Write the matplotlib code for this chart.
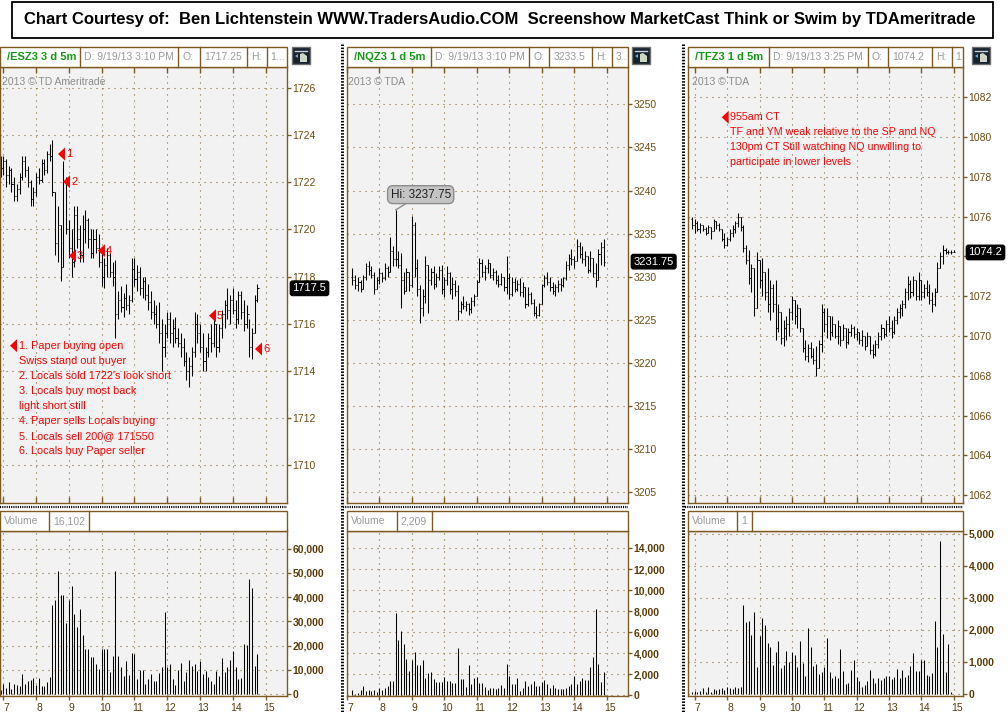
import matplotlib
matplotlib.use('Agg')
import matplotlib.pyplot as plt
import matplotlib.transforms as mtransforms
from matplotlib.patches import Rectangle, Polygon
import numpy as np

# ---- values, 5 minute bars ----
# /ESZ3, first bar 6:55
es_high = [1723.1, 1723.1, 1723.0, 1722.7, 1722.6, 1722.2, 1721.9, 1722.4, 1723.1, 1723.1,
           1722.7, 1722.1, 1721.8, 1722.4, 1722.6, 1723.0, 1723.0, 1723.3, 1723.6, 1723.8,
           1721.6, 1721.0, 1720.2, 1722.9, 1722.2, 1720.4, 1720.0, 1721.0, 1721.0, 1720.2,
           1720.6, 1720.8, 1720.5, 1720.0, 1720.0, 1720.0, 1719.8, 1719.0, 1718.8, 1719.2,
           1719.0, 1718.6, 1718.7, 1717.4, 1717.6, 1717.3, 1717.7, 1717.2, 1718.8, 1718.8,
           1718.5, 1718.4, 1718.0, 1718.0, 1717.7, 1717.4, 1717.0, 1716.8, 1716.9, 1716.2,
           1716.0, 1716.5, 1716.5, 1716.2, 1716.3, 1715.8, 1715.6, 1715.4, 1714.8, 1714.6,
           1715.0, 1716.5, 1716.4, 1716.0, 1715.6, 1715.0, 1715.6, 1716.0, 1716.2, 1716.0,
           1716.0, 1716.6, 1717.0, 1717.5, 1717.2, 1717.5, 1717.0, 1717.4, 1717.4, 1717.0,
           1716.8, 1716.2, 1715.8, 1717.2, 1717.7]
es_low = [1722.2, 1722.3, 1721.8, 1721.9, 1721.6, 1721.2, 1721.2, 1721.5, 1722.1, 1722.2,
          1721.8, 1721.0, 1721.0, 1721.4, 1721.9, 1722.0, 1722.3, 1722.4, 1722.9, 1721.4,
          1718.9, 1718.6, 1717.8, 1718.4, 1719.8, 1718.8, 1718.0, 1718.4, 1719.2, 1718.6,
          1718.6, 1719.4, 1719.2, 1718.8, 1718.8, 1719.0, 1718.4, 1717.6, 1717.5, 1718.0,
          1718.0, 1717.6, 1715.4, 1716.2, 1716.5, 1716.3, 1716.6, 1716.4, 1716.9, 1717.6,
          1717.4, 1717.2, 1717.1, 1717.0, 1716.6, 1716.2, 1716.0, 1715.8, 1715.2, 1714.0,
          1714.6, 1715.4, 1715.2, 1715.0, 1715.2, 1715.0, 1714.6, 1714.2, 1713.6, 1713.3,
          1713.8, 1714.6, 1715.2, 1714.8, 1714.0, 1714.0, 1714.6, 1714.8, 1715.0, 1714.6,
          1714.8, 1715.4, 1715.8, 1716.2, 1716.0, 1716.4, 1715.8, 1716.0, 1716.2, 1715.7,
          1715.8, 1714.6, 1714.5, 1715.6, 1716.9]
es_open = [1722.9, 1722.6, 1722.9, 1722.3, 1722.5, 1721.9, 1721.4, 1721.7, 1722.2, 1722.9,
           1722.5, 1722.0, 1721.3, 1721.6, 1722.2, 1722.1, 1722.8, 1722.5, 1723.2, 1723.1,
           1721.6, 1719.4, 1720.2, 1718.4, 1722.0, 1720.0, 1719.2, 1718.6, 1720.6, 1719.6,
           1718.9, 1720.0, 1720.4, 1719.6, 1719.0, 1719.6, 1719.2, 1718.6, 1718.0, 1718.5,
           1718.9, 1718.2, 1718.0, 1716.4, 1717.0, 1716.7, 1717.1, 1716.8, 1717.0, 1718.3,
           1717.9, 1718.2, 1717.5, 1717.8, 1717.2, 1716.9, 1716.5, 1716.4, 1716.0, 1715.6,
           1715.0, 1715.6, 1716.2, 1715.6, 1715.8, 1715.4, 1715.2, 1715.0, 1714.4, 1714.0,
           1714.2, 1714.8, 1716.0, 1715.6, 1715.0, 1714.4, 1714.8, 1715.4, 1715.2, 1716.0,
           1715.0, 1715.8, 1716.4, 1716.8, 1716.6, 1717.0, 1716.6, 1716.2, 1717.2, 1716.5,
           1716.0, 1716.4, 1715.0, 1715.6, 1717.0]
es_close = [1722.6, 1722.9, 1722.3, 1722.5, 1721.9, 1721.4, 1721.7, 1722.2, 1722.9, 1722.5,
            1722.0, 1721.3, 1721.6, 1722.2, 1722.1, 1722.8, 1722.5, 1723.2, 1723.1, 1721.6,
            1719.4, 1720.2, 1718.4, 1722.0, 1720.0, 1719.2, 1718.6, 1720.6, 1719.6, 1718.9,
            1720.0, 1720.4, 1719.6, 1719.0, 1719.6, 1719.2, 1718.6, 1718.0, 1718.5, 1718.9,
            1718.2, 1718.0, 1716.4, 1717.0, 1716.7, 1717.1, 1716.8, 1717.0, 1718.3, 1717.9,
            1718.2, 1717.5, 1717.8, 1717.2, 1716.9, 1716.5, 1716.4, 1716.0, 1715.6, 1715.0,
            1715.6, 1716.2, 1715.6, 1715.8, 1715.4, 1715.2, 1715.0, 1714.4, 1714.0, 1714.2,
            1714.8, 1716.0, 1715.6, 1715.0, 1714.4, 1714.8, 1715.4, 1715.2, 1716.0, 1715.0,
            1715.8, 1716.4, 1716.8, 1716.6, 1717.0, 1716.6, 1716.2, 1717.2, 1716.5, 1716.0,
            1716.4, 1715.0, 1715.6, 1717.0, 1717.5]
es_vol = [1600, 4100, 2300, 5100, 2000, 4100, 3700, 3400, 8200, 4100, 5500, 5800, 6700, 3700,
          6500, 3300, 3400, 5100, 7100,
          36700, 38800, 50800, 40900, 40900, 29400, 38800, 44700, 33000, 27800, 35100, 24300,
          18600, 18600, 15100, 15100, 12200, 10300, 18800, 18600, 18600, 9200, 15700, 50800,
          15800, 11000, 7600, 13600, 7800, 16800, 16500, 6200, 9900, 9900, 4100, 6200, 8300,
          5400, 5400, 8500, 11000, 33700,
          11300, 12400, 6200, 3700, 9900, 12700, 5400, 9200, 14000, 11700, 12200, 9500, 13600,
          8300, 9600, 7200, 5500, 4100, 9600, 7400, 15000, 9200, 11000, 14000, 17700, 11000,
          6200, 6700,
          20600, 20200, 47700, 43600, 11700, 16400]

# /NQZ3, first bar 7:10
nq_high = [3231.0, 3230.2, 3230.0, 3229.6, 3230.2, 3231.6, 3231.8, 3231.2, 3230.6, 3230.0,
           3231.0, 3230.6, 3231.6, 3231.2, 3234.6, 3233.6, 3237.75, 3233.0, 3232.7, 3230.6,
           3231.0, 3230.6, 3237.0, 3236.4, 3232.0, 3229.0, 3228.6, 3232.4, 3231.4, 3231.0,
           3231.2, 3230.4, 3231.2, 3231.4, 3230.0, 3231.2, 3230.6, 3230.0, 3229.6, 3229.0,
           3227.2, 3227.8, 3227.2, 3227.0, 3227.6, 3228.0, 3229.6, 3232.2, 3232.0, 3231.4,
           3232.0, 3231.6, 3231.0, 3230.8, 3230.2, 3230.4, 3230.0, 3232.4, 3230.4, 3230.0,
           3229.8, 3229.6, 3229.8, 3229.4, 3228.8, 3228.8, 3228.2, 3227.4, 3226.6, 3227.0,
           3229.2, 3230.2, 3230.6, 3230.0, 3229.4, 3229.2, 3229.6, 3229.8, 3230.0, 3231.8,
           3232.6, 3233.2, 3232.4, 3234.4, 3234.0, 3233.6, 3233.0, 3232.4, 3233.0, 3232.2,
           3231.6, 3233.2, 3234.0, 3234.4]
nq_low = [3229.0, 3228.6, 3228.4, 3228.2, 3228.6, 3229.6, 3230.2, 3229.8, 3228.0, 3228.6,
          3229.2, 3229.4, 3229.6, 3230.0, 3230.6, 3231.2, 3231.2, 3231.0, 3226.4, 3228.0,
          3228.4, 3228.4, 3228.8, 3230.0, 3227.8, 3224.6, 3225.4, 3227.0, 3225.8, 3229.0,
          3228.6, 3228.8, 3229.6, 3228.0, 3227.6, 3229.0, 3228.0, 3227.4, 3227.8, 3225.0,
          3225.8, 3226.2, 3226.0, 3225.6, 3225.8, 3226.6, 3227.8, 3229.4, 3230.0, 3229.6,
          3230.4, 3229.8, 3229.6, 3229.2, 3228.8, 3229.0, 3228.4, 3228.0, 3227.4, 3227.8,
          3228.2, 3228.4, 3227.8, 3227.6, 3226.4, 3226.6, 3226.8, 3225.4, 3225.2, 3225.4,
          3226.8, 3228.8, 3229.0, 3228.4, 3228.0, 3227.8, 3228.2, 3228.4, 3228.8, 3229.6,
          3230.8, 3231.4, 3231.0, 3231.8, 3232.2, 3231.6, 3231.2, 3230.4, 3230.6, 3230.0,
          3228.8, 3229.6, 3231.4, 3231.2]
nq_open = [3230.0, 3229.6, 3229.0, 3229.4, 3228.6, 3230.0, 3231.2, 3230.8, 3230.2, 3228.6,
           3229.6, 3230.4, 3229.8, 3231.0, 3230.6, 3233.0, 3232.0, 3232.0, 3231.4, 3229.6,
           3228.4, 3230.6, 3229.0, 3236.0, 3231.0, 3228.6, 3226.4, 3227.8, 3231.4, 3229.6,
           3230.6, 3229.2, 3230.0, 3230.8, 3228.6, 3229.6, 3230.4, 3228.6, 3229.2, 3228.4,
           3226.0, 3226.8, 3226.6, 3226.8, 3226.2, 3227.2, 3227.8, 3229.4, 3231.6, 3230.6,
           3231.0, 3231.6, 3230.2, 3230.6, 3229.6, 3229.2, 3230.0, 3228.8, 3229.8, 3228.0,
           3229.4, 3228.6, 3229.2, 3228.2, 3228.8, 3226.8, 3228.0, 3227.0, 3225.8, 3225.6,
           3226.8, 3229.0, 3229.8, 3229.4, 3228.8, 3228.4, 3228.8, 3229.2, 3229.0, 3229.8,
           3231.4, 3232.2, 3232.0, 3231.8, 3233.6, 3232.6, 3232.0, 3232.4, 3230.8, 3232.2,
           3230.4, 3229.6, 3232.6, 3233.4]
nq_close = [3229.6, 3229.0, 3229.4, 3228.6, 3230.0, 3231.2, 3230.8, 3230.2, 3228.6, 3229.6,
            3230.4, 3229.8, 3231.0, 3230.6, 3233.0, 3232.0, 3232.0, 3231.4, 3229.6, 3228.4,
            3230.6, 3229.0, 3236.0, 3231.0, 3228.6, 3226.4, 3227.8, 3231.4, 3229.6, 3230.6,
            3229.2, 3230.0, 3230.8, 3228.6, 3229.6, 3230.4, 3228.6, 3229.2, 3228.4, 3226.0,
            3226.8, 3226.6, 3226.8, 3226.2, 3227.2, 3227.8, 3229.4, 3231.6, 3230.6, 3231.0,
            3231.6, 3230.2, 3230.6, 3229.6, 3229.2, 3230.0, 3228.8, 3229.8, 3228.0, 3229.4,
            3228.6, 3229.2, 3228.2, 3228.8, 3226.8, 3228.0, 3227.0, 3225.8, 3225.6, 3226.8,
            3229.0, 3229.8, 3229.4, 3228.8, 3228.4, 3228.8, 3229.2, 3229.0, 3229.8, 3231.4,
            3232.2, 3232.0, 3231.8, 3233.6, 3232.6, 3232.0, 3232.4, 3230.8, 3232.2, 3230.4,
            3229.6, 3232.6, 3233.4, 3231.75]
nq_vol = [480, 100, 160, 480, 860, 410, 480, 410, 480, 320, 700, 480, 630, 860, 1330, 1330,
          7840,
          5240, 6100, 4860, 3430, 2290, 3330, 4060, 2860, 2860, 3330,
          1650, 2060, 2160, 1520, 1270, 1270, 1270, 1680, 1330, 1330,
          1140, 1140, 4510, 1520, 1520, 790, 2860, 1020, 1590, 1680,
          1170, 1170, 790, 480, 700, 700, 540, 630, 950, 700,
          2920, 1810, 1020, 1020, 1650, 410, 630, 1330, 860, 1020,
          1330, 860, 860, 1270, 1430, 1020, 700, 950, 630, 570,
          540, 540, 630, 860, 1020, 1810, 1020, 1330, 1590, 1430,
          1430, 2630, 3650, 8190, 2950, 1270, 2220]

# /TFZ3, first bar 6:55
tf_high = [1076.0, 1075.9, 1075.8, 1075.7, 1075.6, 1075.5, 1075.6, 1075.5, 1075.9, 1075.8,
           1075.7, 1075.4, 1075.2, 1075.0, 1075.4, 1075.6, 1075.8, 1076.2, 1076.0, 1075.6,
           1074.6, 1074.3, 1073.6, 1073.4, 1074.2, 1073.8, 1073.9, 1073.2, 1073.4, 1072.8,
           1072.6, 1072.8, 1071.6, 1071.2, 1070.8, 1071.0, 1071.4, 1072.0, 1071.8, 1071.6,
           1071.4, 1070.4, 1069.8, 1069.6, 1069.7, 1069.4, 1069.5, 1069.8, 1071.6, 1071.4,
           1071.4, 1071.0, 1071.0, 1070.6, 1070.8, 1070.5, 1070.6, 1070.4, 1070.4, 1070.6,
           1070.5, 1070.4, 1070.2, 1070.3, 1070.0, 1070.2, 1070.0, 1069.6, 1069.8, 1070.2,
           1070.6, 1070.4, 1070.8, 1071.0, 1070.8, 1071.0, 1071.4, 1071.6, 1071.8, 1072.4,
           1073.0, 1072.8, 1073.0, 1072.8, 1073.2, 1072.8, 1072.6, 1072.8, 1072.6, 1072.2,
           1072.4, 1073.7, 1074.2, 1074.6, 1074.4, 1074.3, 1074.3, 1074.3]
tf_low = [1075.4, 1075.2, 1075.3, 1075.2, 1075.3, 1075.1, 1075.2, 1074.9, 1075.3, 1075.4,
          1075.3, 1074.8, 1074.4, 1074.5, 1074.8, 1075.0, 1075.2, 1075.5, 1075.3, 1074.2,
          1073.6, 1072.6, 1072.2, 1071.0, 1071.4, 1072.4, 1072.0, 1071.8, 1071.2, 1070.8,
          1071.2, 1069.8, 1070.2, 1069.6, 1069.5, 1069.8, 1070.0, 1070.8, 1070.6, 1070.4,
          1070.2, 1069.2, 1068.8, 1068.7, 1068.9, 1068.6, 1068.0, 1068.4, 1069.2, 1070.2,
          1069.9, 1069.8, 1070.0, 1069.9, 1069.6, 1069.5, 1069.8, 1069.4, 1069.6, 1070.0,
          1069.9, 1069.8, 1069.6, 1069.5, 1069.3, 1069.5, 1069.1, 1068.9, 1069.0, 1069.4,
          1069.8, 1069.9, 1070.0, 1070.2, 1069.9, 1070.1, 1070.6, 1070.9, 1071.0, 1071.4,
          1071.8, 1071.9, 1072.0, 1071.8, 1071.8, 1071.8, 1071.9, 1072.0, 1071.6, 1071.2,
          1071.5, 1072.2, 1073.4, 1073.6, 1074.1, 1074.1, 1074.1, 1074.2]
tf_open = [1075.9, 1075.6, 1075.7, 1075.4, 1075.6, 1075.4, 1075.2, 1075.5, 1075.3, 1075.8,
           1075.6, 1075.4, 1074.9, 1074.6, 1074.9, 1075.2, 1075.4, 1075.7, 1076.0, 1075.5,
           1074.4, 1073.8, 1072.9, 1073.4, 1071.4, 1073.8, 1072.8, 1073.2, 1072.2, 1071.6,
           1072.4, 1071.6, 1070.4, 1071.2, 1069.9, 1070.4, 1070.6, 1071.2, 1071.8, 1071.0,
           1071.4, 1070.4, 1069.4, 1069.0, 1069.4, 1069.0, 1068.8, 1068.4, 1069.6, 1071.2,
           1070.6, 1071.0, 1070.2, 1070.6, 1070.0, 1070.5, 1069.8, 1070.4, 1069.7, 1070.2,
           1070.4, 1070.1, 1070.2, 1069.8, 1070.0, 1069.5, 1070.0, 1069.3, 1069.1, 1069.6,
           1070.0, 1070.4, 1070.1, 1070.6, 1070.4, 1070.2, 1070.8, 1071.2, 1071.4, 1071.6,
           1072.2, 1072.6, 1072.2, 1072.8, 1072.0, 1072.8, 1072.2, 1072.4, 1072.2, 1071.8,
           1071.6, 1072.2, 1073.4, 1074.0, 1074.3, 1074.2, 1074.2, 1074.2]
tf_close = [1075.6, 1075.7, 1075.4, 1075.6, 1075.4, 1075.2, 1075.5, 1075.3, 1075.8, 1075.6,
            1075.4, 1074.9, 1074.6, 1074.9, 1075.2, 1075.4, 1075.7, 1076.0, 1075.5, 1074.4,
            1073.8, 1072.9, 1073.4, 1071.4, 1073.8, 1072.8, 1073.2, 1072.2, 1071.6, 1072.4,
            1071.6, 1070.4, 1071.2, 1069.9, 1070.4, 1070.6, 1071.2, 1071.8, 1071.0, 1071.4,
            1070.4, 1069.4, 1069.0, 1069.4, 1069.0, 1068.8, 1068.4, 1069.6, 1071.2, 1070.6,
            1071.0, 1070.2, 1070.6, 1070.0, 1070.5, 1069.8, 1070.4, 1069.7, 1070.2, 1070.4,
            1070.1, 1070.2, 1069.8, 1070.0, 1069.5, 1070.0, 1069.3, 1069.1, 1069.6, 1070.0,
            1070.4, 1070.1, 1070.6, 1070.4, 1070.2, 1070.8, 1071.2, 1071.4, 1071.6, 1072.2,
            1072.6, 1072.2, 1072.8, 1072.0, 1072.8, 1072.2, 1072.4, 1072.2, 1071.8, 1071.6,
            1072.2, 1073.4, 1074.0, 1074.3, 1074.2, 1074.2, 1074.2, 1074.2]
tf_vol = [70, 90, 70, 90, 180, 70, 230, 70, 150, 130, 150, 180, 130, 230, 180, 150, 210, 200, 230,
          2780, 2240, 2260, 1840, 2570, 850, 1810, 2360, 2140, 1600,
          1450, 910, 1320, 1660, 800, 910, 1340, 1010, 1320, 1220,
          850, 1660, 960, 570, 2070, 1480, 880, 940, 610, 700,
          850, 1740, 700, 510, 560, 490, 1410, 730, 300,
          330, 750, 1060, 540, 390, 230, 280, 390, 750,
          510, 350, 510, 440, 490, 560, 570, 470,
          540, 770, 490, 750, 540, 590, 880, 1270, 730, 720,
          1060, 1060, 590, 570, 670, 2260, 1480, 4760, 1880, 700,
          1560, 70, 5]

es_t = 6 + 55 / 60 + np.arange(len(es_close)) * 5 / 60
nq_t = 7 + 10 / 60 + np.arange(len(nq_close)) * 5 / 60
tf_t = 6 + 55 / 60 + np.arange(len(tf_close)) * 5 / 60
hours = list(range(7, 16))

es_notes = ["1. Paper buying open", "Swiss stand out buyer", "2. Locals sold 1722's look short",
            "3. Locals buy most back", "light short still", "4. Paper sells Locals buying",
            "5. Locals sell 200@ 171550", "6. Locals buy Paper seller"]
tf_notes = ["955am CT", "TF and YM weak relative to the SP and NQ",
            "130pm CT Still watching NQ unwilling to", "participate in lower levels"]

# ---- look ----
W, H = 1008, 712
BROWN = '#7d5a24'
GRID = '#8a6a30'
TICK_TXT = '#6e4c14'
VOL_TXT = '#5a3c0a'
PLOT_BG = '#f2f2f2'
GREY_TXT = '#9a9a9a'
RED = '#ff0000'
TICK_W = 0.032
BAR_LW = 0.75

plt.rcParams['font.family'] = ['Liberation Sans', 'DejaVu Sans']

fig = plt.figure(figsize=(W / 100, H / 100), dpi=100)
fig.patch.set_facecolor('white')


def px_axes(x0, y0, x1, y1):
    return fig.add_axes([x0 / W, 1 - y1 / H, (x1 - x0) / W, (y1 - y0) / H])


def style(ax):
    ax.set_facecolor(PLOT_BG)
    for sp in ax.spines.values():
        sp.set_color(BROWN)
        sp.set_linewidth(1)
    ax.grid(True, color=GRID, ls=(0, (1, 4.4)), lw=0.8)
    ax.set_axisbelow(True)
    ax.yaxis.tick_right()
    ax.tick_params(axis='y', right=True, left=False, direction='out', length=3, width=1,
                   color=BROWN, pad=1, labelsize=7.5, labelcolor=TICK_TXT)


def price_panel(x0, x1, xlim, ylim, yticks, t, o, hi, lo, c, hidden=()):
    ax = px_axes(x0, 67, x1, 503)
    style(ax)
    o, hi, lo, c = map(np.asarray, (o, hi, lo, c))
    ax.vlines(t, lo, hi, color='black', lw=BAR_LW)
    ax.hlines(o, t - TICK_W, t, color='black', lw=BAR_LW)
    ax.hlines(c, t, t + TICK_W, color='black', lw=BAR_LW)
    ax.set_xlim(xlim)
    ax.set_ylim(ylim)
    ax.set_xticks(hours)
    ax.set_xticklabels([])
    ax.tick_params(axis='x', direction='in', top=True, bottom=True, length=4, width=1, color=BROWN)
    ax.set_yticks(yticks)
    # a label that sits under the last price tag is not shown
    ax.set_yticklabels(['' if v in hidden else f'{v:g}' for v in yticks])
    trans = mtransforms.blended_transform_factory(ax.transAxes, ax.transData)
    ax.annotate(f'{c[-1]:g}', xy=(1, c[-1]), xycoords=trans, xytext=(4, 0),
                textcoords='offset points', ha='left', va='center', color='white', fontsize=8,
                bbox=dict(boxstyle='round,pad=0.2,rounding_size=0.2', fc='black', ec='black'),
                zorder=6, annotation_clip=False)
    return ax


def volume_panel(x0, x1, xlim, ylim, yticks, t, v):
    ax = px_axes(x0, 531, x1, 696)
    style(ax)
    ax.vlines(t, 0, v, color='black', lw=BAR_LW)
    ax.set_xlim(xlim)
    ax.set_ylim(ylim)
    ax.set_xticks(hours)
    ax.set_xticklabels([str(h) for h in hours])
    ax.tick_params(axis='x', direction='out', length=3, width=1, color=BROWN, pad=2,
                   labelsize=7.5, labelcolor=VOL_TXT)
    off = mtransforms.ScaledTranslation(3 / 100, 0, fig.dpi_scale_trans)
    for lab in ax.get_xticklabels():
        lab.set_transform(lab.get_transform() + off)
    ax.set_yticks(yticks)
    ax.set_yticklabels([f'{int(y):,}' for y in yticks], fontweight='bold', color=VOL_TXT)
    return ax


es_ax = price_panel(0, 287, (6.9, 15.65), (1708.4, 1726.88), list(range(1710, 1727, 2)),
                    es_t, es_open, es_high, es_low, es_close)
nq_ax = price_panel(347, 628, (7.07, 15.66), (3203.75, 3254.33), list(range(3205, 3251, 5)),
                    nq_t, nq_open, nq_high, nq_low, nq_close)
tf_ax = price_panel(688, 963, (6.79, 15.29), (1061.61, 1083.52), list(range(1062, 1083, 2)),
                    tf_t, tf_open, tf_high, tf_low, tf_close, hidden=(1074,))

volume_panel(0, 287, (6.9, 15.65), (-826, 67355), list(range(0, 60001, 10000)), es_t, es_vol)
volume_panel(347, 628, (7.07, 15.66), (-95, 15619), list(range(0, 14001, 2000)), nq_t, nq_vol)
volume_panel(688, 963, (6.79, 15.29), (-62, 5078), list(range(0, 5001, 1000)), tf_t, tf_vol)

# session high bubble on the NQ chart
k = int(np.argmax(nq_high))
nq_ax.annotate(f'Hi: {nq_high[k]:g}', xy=(nq_t[k], nq_high[k]), xytext=(18, 11),
               textcoords='offset points', ha='center', va='center', fontsize=8.5, color='#202020',
               bbox=dict(boxstyle='round,pad=0.25,rounding_size=0.45', fc='#c4c4c4', ec='#8c8c8c'),
               arrowprops=dict(arrowstyle='-', color='#8c8c8c', lw=1, shrinkA=0, shrinkB=0),
               zorder=6)

# ---- overlay in pixel coordinates: frame, headers, notes ----
ov = fig.add_axes([0, 0, 1, 1], zorder=10)
ov.set_xlim(0, W)
ov.set_ylim(H, 0)
ov.axis('off')

ov.add_patch(Rectangle((12.3, 1.7), 980.7, 36, fc='white', ec='black', lw=1.3))
ov.text(24, 19.5, 'Chart Courtesy of:  Ben Lichtenstein WWW.TradersAudio.COM  Screenshow '
        'MarketCast Think or Swim by TDAmeritrade', fontsize=12, fontweight='bold',
        ha='left', va='center', color='black')


def cells(edges, y0, y1, texts, first_green):
    ov.add_patch(Rectangle((edges[0], y0), edges[-1] - edges[0], y1 - y0, fc='white', ec=BROWN, lw=1))
    for e in edges[1:-1]:
        ov.plot([e, e], [y0, y1], color=BROWN, lw=1)
    for j, txt in enumerate(texts):
        if j == 0 and first_green:
            ov.text(edges[0] + 7, (y0 + y1) / 2 + 0.5, txt, fontsize=8, fontweight='bold',
                    color='#129a12', ha='left', va='center')
        else:
            ov.text(edges[j] + 4, (y0 + y1) / 2 + 0.5, txt, fontsize=7.5, color=GREY_TXT,
                    ha='left', va='center')


cells([0, 80, 178.3, 200, 247.3, 266.7, 287], 46.7, 67.3,
      ['/ESZ3 3 d 5m', 'D: 9/19/13 3:10 PM', 'O:', '1717.25', 'H:', '1...'], True)
cells([347.3, 430.7, 529.3, 549.3, 591.7, 611.7, 628.3], 46.7, 67.3,
      ['/NQZ3 1 d 5m', 'D: 9/19/13 3:10 PM', 'O:', '3233.5', 'H:', '3..'], True)
cells([688.3, 769.3, 867.7, 888.3, 931.7, 951.7, 962.7], 46.7, 67.3,
      ['/TFZ3 1 d 5m', 'D: 9/19/13 3:25 PM', 'O:', '1074.2', 'H:', '1'], True)

cells([0, 49, 89.3, 287], 511, 531, ['Volume', '16,102', ''], False)
cells([347.3, 396.7, 431.7, 628.3], 511, 531, ['Volume', '2,209', ''], False)
cells([688.3, 737.3, 751.7, 962.7], 511, 531, ['Volume', '1', ''], False)

# panel separators
for xs in (341.5, 683):
    ov.plot([xs, xs], [44, H], color='black', lw=2.2, ls=(0, (0.5, 0.5)))
for xa, xb in ((0, 287), (343, 628), (685, 962.7)):
    ov.plot([xa, xb], [507, 507], color='black', lw=1.6, ls=(0, (0.5, 0.5)))

# chart tool icons
for xi in (292, 632, 972):
    ov.add_patch(Rectangle((xi, 47), 18, 17, fc='#16222e', ec='#707070', lw=1))
    ov.plot([xi + 3, xi + 15], [50.5, 50.5], color='#c8d0d8', lw=1)
    ov.add_patch(Polygon([[xi + 8, 62], [xi + 8, 54], [xi + 11, 53], [xi + 15, 56], [xi + 15, 62]],
                         closed=True, fc='#cdd6c4', ec='none'))
    ov.add_patch(Polygon([[xi + 3, 56], [xi + 6, 54], [xi + 6, 58]], closed=True, fc='#6fa8dc', ec='none'))

# watermarks
for xw, txt in ((2, '2013 © TD Ameritrade'), (348, '2013 © TDA'), (692, '2013 © TDA')):
    ov.text(xw, 82, txt, fontsize=7.5, color='#8c8c8c', ha='left', va='center')


def flag(xt, y):
    ov.add_patch(Polygon([[xt, y], [xt + 7, y - 6.5], [xt + 7, y + 6.5]], closed=True, fc=RED, ec='none'))


for num, (xt, y) in enumerate(((58, 154), (63, 181.7), (69, 255.7), (98, 250.7), (209, 315.7), (255, 349)), 1):
    flag(xt, y)
    ov.text(xt + 8, y, str(num), fontsize=8, color=RED, ha='left', va='center')

flag(10, 345.7)
for j, line in enumerate(es_notes):
    ov.text(19, 345.7 + j * 15.05, line, fontsize=7.8, color=RED, ha='left', va='center')

flag(721.7, 117.3)
for j, line in enumerate(tf_notes):
    ov.text(730, 117.3 + j * 14.8, line, fontsize=7.7, color=RED, ha='left', va='center')

fig.savefig('out.png', dpi=100)
